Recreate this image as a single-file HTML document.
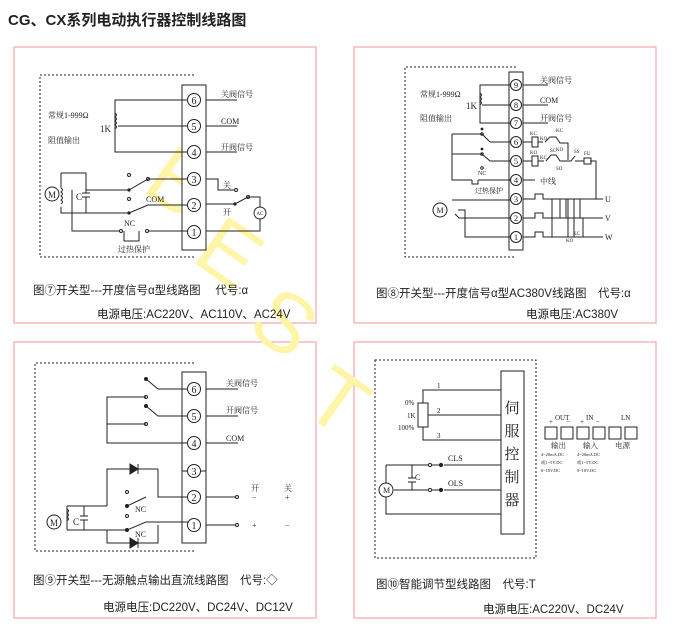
<!DOCTYPE html>
<html><head><meta charset="utf-8"><style>
body{margin:0;background:#fff;width:680px;height:627px;overflow:hidden}
svg{display:block}
text{font-family:"Liberation Serif","Noto Serif CJK SC",serif;fill:#222}
.c{font-family:"Liberation Sans","Noto Sans CJK SC",sans-serif}
text.wm{fill:#fff5a8;font-family:"Liberation Sans",sans-serif;font-size:84px}
</style></head><body>
<svg width="680" height="627" viewBox="0 0 680 627" xmlns="http://www.w3.org/2000/svg">
<g fill="none" stroke="#f2a6ae" stroke-width="1.2">
<rect x="14" y="47" width="302" height="276"/><rect x="354" y="47" width="302" height="276"/>
<rect x="14" y="342" width="302" height="276"/><rect x="354" y="342" width="302" height="276"/>
</g>
<!-- watermark -->
<text class="wm" x="140" y="190" transform="rotate(35 140 190)">B</text>
<text class="wm" x="190" y="260" transform="rotate(35 190 260)">E</text>
<text class="wm" x="245" y="330" transform="rotate(35 245 330)">S</text>
<text class="wm" x="300" y="410" transform="rotate(35 300 410)">T</text>
<text class="c" x="8" y="25" font-size="15" font-weight="bold" style="fill:#222">CG、CX系列电动执行器控制线路图</text>

<g stroke="#222" stroke-width="1" fill="none">
<!-- Q1 -->
<path d="M194 75H40V257H194" stroke-dasharray="2,2"/>
<rect x="182" y="85" width="24" height="165" fill="#fff"/>
<path d="M206 100H237M206 126H237M206 152H237"/>
<path d="M188 100H115V152H188M118 126H188"/>
<path d="M115 113q3 2 0 4q3 2 0 4q3 2 0 4q3 2 0 4"/>
<path d="M61 173H86V193M86 197V213H61V207M61 188V173M82 193H90M82 197H90"/>
<path d="M61 188q3 2 0 4q3 2 0 4q3 2 0 4q3 2 0 4"/>
<path d="M86 190H129L148 179H188M86 213H129L148 205H188"/>
<path d="M72 190V231H120M148 231H188M124 231V241H139V231"/>
<path d="M206 179H218V190H234M206 204H235L248 197H260V207M260 219V231H206"/>
<circle cx="52" cy="194" r="7"/><circle cx="260" cy="213" r="6"/>
<circle cx="129" cy="175" r="1.5"/><circle cx="129" cy="199" r="1.5"/><circle cx="148" cy="179" r="1.5"/>
<circle cx="236" cy="190" r="1.5"/><circle cx="248" cy="197" r="1.5"/>
<circle cx="121" cy="231" r="1.5"/><circle cx="147" cy="231" r="1.5"/>
</g>
<circle cx="129" cy="190" r="1.6" fill="#222"/><circle cx="129" cy="213" r="1.6" fill="#222"/><circle cx="235" cy="204" r="1.6" fill="#222"/>
<g fill="#fff" stroke="#222">
<circle cx="194" cy="100" r="6.5"/><circle cx="194" cy="126" r="6.5"/><circle cx="194" cy="152" r="6.5"/>
<circle cx="194" cy="179" r="6.5"/><circle cx="194" cy="205" r="6.5"/><circle cx="194" cy="232" r="6.5"/>
</g>
<g font-size="10" text-anchor="middle">
<text x="194" y="104">6</text><text x="194" y="130">5</text><text x="194" y="156">4</text>
<text x="194" y="183">3</text><text x="194" y="209">2</text><text x="194" y="236">1</text>
<text x="52" y="198" font-size="9">M</text><text x="260" y="215" font-size="5">AC</text>
</g>
<g font-size="8">
<text x="221" y="97">关阀信号</text><text x="221" y="124">COM</text><text x="221" y="150">开阀信号</text>
<text x="48" y="118">常规1-999Ω</text><text x="48" y="143">阻值输出</text><text x="100" y="132" font-size="9">1K</text>
<text x="76" y="200" font-size="9">C</text><text x="146" y="202">COM</text><text x="124" y="226">NC</text>
<text x="223" y="188">关</text><text x="223" y="215">开</text><text x="118" y="252">过热保护</text>
</g>
<text class="c" x="33" y="294" font-size="11.5">图⑦开关型---开度信号α型线路图　 代号:α</text>
<text class="c" x="97" y="318" font-size="11.5">电源电压:AC220V、AC110V、AC24V</text>

<!-- Q2 -->
<g stroke="#222" stroke-width="1" fill="none">
<path d="M516 67H405V257H516" stroke-dasharray="2,2"/>
<rect x="509" y="72" width="14" height="178" fill="#fff"/>
<path d="M523 85H548M523 105H548M523 123H548M523 180H535"/>
<path d="M511 85H480V123H511M482 105H511M480 93q3 2 0 4q3 2 0 4q3 2 0 4"/>
<path d="M452 134H482M482 134L490 142M490 142H511M452 154H482M482 154L490 161M490 161H511M452 134V180H472M478 180H511M472 180V184H478V180"/>
<path d="M523 142H532M538 142H543M545 142L550 137H556L560 143H568V160M523 161H532M538 161H544M546 161L551 155H556L560 161H571L575 156M575 161H584M590 161H596V199"/>
<rect x="532" y="137" width="6" height="10"/><rect x="532" y="156" width="6" height="10"/><rect x="584" y="158" width="7" height="6"/>
<path d="M452 200H511M458 210H465V237H511M455 214L459 218H511"/>
<path d="M523 199H535V194H543V199H603M523 218H535V213H543V218H603M523 237H535V232H543V237H603"/>
<path d="M552 199V237M555 218H560V199M566 199V218M560 237H568V199M574 199V237M580 199V218M583 218V237"/>
<circle cx="440" cy="210" r="7"/>
<circle cx="482" cy="134" r="1.3"/><circle cx="482" cy="154" r="1.3"/><circle cx="482" cy="168" r="1.3"/>
</g>
<circle cx="482" cy="129" r="1.4" fill="#222"/><circle cx="482" cy="149" r="1.4" fill="#222"/>
<g fill="#fff" stroke="#222">
<circle cx="516" cy="85" r="5.5"/><circle cx="516" cy="105" r="5.5"/><circle cx="516" cy="123" r="5.5"/>
<circle cx="516" cy="142" r="5.5"/><circle cx="516" cy="161" r="5.5"/><circle cx="516" cy="180" r="5.5"/>
<circle cx="516" cy="199" r="5.5"/><circle cx="516" cy="218" r="5.5"/><circle cx="516" cy="237" r="5.5"/>
</g>
<g font-size="8.5" text-anchor="middle">
<text x="516" y="88">9</text><text x="516" y="108">8</text><text x="516" y="126">7</text><text x="516" y="145">6</text>
<text x="516" y="164">5</text><text x="516" y="183">4</text><text x="516" y="202">3</text><text x="516" y="221">2</text><text x="516" y="240">1</text>
<text x="440" y="213" font-size="8">M</text>
</g>
<g font-size="8">
<text x="540" y="83">关阀信号</text><text x="540" y="103">COM</text><text x="540" y="121">开阀信号</text>
<text x="420" y="97">常规1-999Ω</text><text x="420" y="121">阻值输出</text><text x="466" y="109" font-size="9">1K</text>
<text x="478" y="175" font-size="6">NC</text><text x="540" y="184">中线</text><text x="475" y="193" font-size="7">过热保护</text>
<text x="605" y="202">U</text><text x="605" y="221">V</text><text x="605" y="240">W</text>
<g font-size="5"><text x="530" y="135">KC</text><text x="540" y="140">KO</text><text x="556" y="132">KC</text><text x="550" y="152">SC</text>
<text x="530" y="154">KO</text><text x="540" y="159">KC</text><text x="556" y="151">KO</text><text x="556" y="170">SO</text><text x="574" y="153">SS</text><text x="584" y="155">FU</text>
<text x="566" y="242">KO</text><text x="573" y="235">KC</text></g>
</g>
<text class="c" x="376" y="297" font-size="11.5">图⑧开关型---开度信号α型AC380V线路图　代号:α</text>
<text class="c" x="526" y="318" font-size="11.5">电源电压:AC380V</text>

<!-- Q3 -->
<g stroke="#222" stroke-width="1" fill="none">
<path d="M194 363H35V551H194" stroke-dasharray="2,2"/>
<rect x="182" y="372" width="24" height="171" fill="#fff"/>
<path d="M206 389H238M206 416H238M206 443H238M182 471H206"/>
<path d="M188 389H158L146 379M188 416H158L146 406M146 397H107V443H188M146 424H107"/>
<path d="M188 497H158V469M158 469H107V506M130 469H158M107 506H67M67 530H127L146 522H188M127 506L146 497M206 497H236M206 525H236"/>
<path d="M107 530V543H130M158 525V543H136M67 506V530M84 506V516M84 520V530M80 516H88M80 520H88M67 509q3 2 0 4q3 2 0 4q3 2 0 4"/>
<path d="M130 464V474L138 469Z M138 464V474M130 538V548L138 543Z M138 538V548" fill="#222"/>
<circle cx="146" cy="379" r="1.5" fill="#222"/><circle cx="146" cy="406" r="1.5" fill="#222"/><circle cx="146" cy="397" r="1.5"/><circle cx="146" cy="424" r="1.5"/>
<circle cx="127" cy="506" r="1.5" fill="#222"/><circle cx="127" cy="530" r="1.5" fill="#222"/><circle cx="127" cy="492" r="1.5"/><circle cx="127" cy="516" r="1.5"/>
<circle cx="237" cy="497" r="1.5"/><circle cx="237" cy="525" r="1.5"/>
<circle cx="54" cy="522" r="7"/>
</g>
<g fill="#fff" stroke="#222">
<circle cx="194" cy="389" r="6.5"/><circle cx="194" cy="416" r="6.5"/><circle cx="194" cy="443" r="6.5"/>
<circle cx="194" cy="471" r="6.5"/><circle cx="194" cy="497" r="6.5"/><circle cx="194" cy="525" r="6.5"/>
</g>
<g font-size="10" text-anchor="middle">
<text x="194" y="393">6</text><text x="194" y="420">5</text><text x="194" y="447">4</text>
<text x="194" y="475">3</text><text x="194" y="501">2</text><text x="194" y="529">1</text><text x="54" y="526" font-size="9">M</text>
</g>
<g font-size="8">
<text x="226" y="386">关阀信号</text><text x="226" y="413">开阀信号</text><text x="226" y="441">COM</text>
<text x="73" y="525" font-size="9">C</text><text x="135" y="512">NC</text><text x="135" y="537">NC</text>
<text x="251" y="491">开</text><text x="284" y="491">关</text><text x="252" y="500">−</text><text x="285" y="500">+</text>
<text x="252" y="528">+</text><text x="285" y="528">−</text>
</g>
<text class="c" x="33" y="584" font-size="11.5">图⑨开关型---无源触点输出直流线路图　代号:◇</text>
<text class="c" x="103" y="611" font-size="11.5">电源电压:DC220V、DC24V、DC12V</text>

<!-- Q4 -->
<g stroke="#222" stroke-width="1" fill="none">
<path d="M375 360H536V558H375Z" stroke-dasharray="2,2"/>
<rect x="501" y="371" width="23" height="163"/>
<path d="M423 403V390H501M423 427V440H501M428 415H501"/>
<rect x="418" y="403" width="10" height="24"/>
<path d="M386 465H428M432 465H440M394 490H428M432 490H440M444 465H501M444 490H501"/>
<path d="M386 483V465M386 497V514H501M412 465V478M412 482V490M408 478H416M408 482H416"/>
<circle cx="386" cy="490" r="7" fill="#fff"/>
<circle cx="430" cy="465" r="1.6"/><circle cx="430" cy="490" r="1.6"/>
<circle cx="441" cy="465" r="1.6" fill="#222"/><circle cx="441" cy="490" r="1.6" fill="#222"/>
<rect x="545" y="427" width="12" height="12"/><rect x="561" y="427" width="12" height="12"/><rect x="577" y="427" width="12" height="12"/>
<rect x="593" y="427" width="12" height="12"/><rect x="609" y="427" width="12" height="12"/><rect x="625" y="427" width="12" height="12"/>
</g>
<g font-size="7">
<text x="437" y="388">1</text><text x="437" y="413">2</text><text x="437" y="438">3</text>
<text x="405" y="405">0%</text><text x="407" y="418">1K</text><text x="398" y="430">100%</text>
<text x="448" y="461" font-size="8">CLS</text><text x="448" y="486" font-size="8">OLS</text><text x="415" y="480" font-size="8">C</text>
<text x="383" y="493" font-size="8">M</text>
<text x="555" y="420">OUT</text><text x="549" y="424">+</text><text x="566" y="424">−</text>
<text x="586" y="420">IN</text><text x="580" y="424">+</text><text x="596" y="424">−</text><text x="621" y="420">LN</text>
<text x="551" y="448" font-size="7.5">输出</text><text x="583" y="448" font-size="7.5">输入</text><text x="615" y="448" font-size="7.5">电源</text>
<g font-size="4.5"><text x="541" y="456">4~20mA.DC</text><text x="541" y="464">或1~5V.DC</text><text x="541" y="472">0~10V.DC</text>
<text x="577" y="456">4~20mA.DC</text><text x="577" y="464">或1~5V.DC</text><text x="577" y="472">0~10V.DC</text></g>
</g>
<g font-size="15" text-anchor="middle" class="c">
<text x="512" y="413">伺</text><text x="512" y="436">服</text><text x="512" y="459">控</text><text x="512" y="482">制</text><text x="512" y="505">器</text>
</g>
<text class="c" x="376" y="588" font-size="11.5">图⑩智能调节型线路图　代号:T</text>
<text class="c" x="483" y="613" font-size="11.5">电源电压:AC220V、DC24V</text>
</svg>
</body></html>
